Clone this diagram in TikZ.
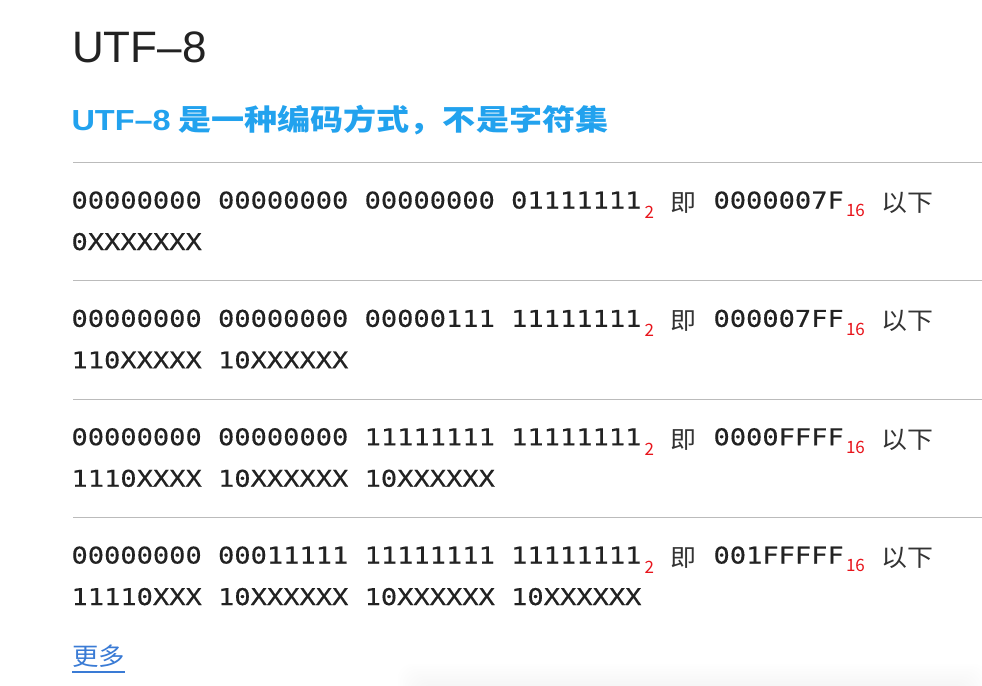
\documentclass[tikz,border=0pt]{standalone}
\usepackage{fontspec}
\setmainfont{Noto Sans CJK SC}
\newfontfamily\monof[FakeStretch=1.176,FakeBold=0.4]{DejaVu Sans Mono}
\newfontfamily\titlef{Liberation Sans}
\newfontfamily\subtlat[FakeStretch=1.12]{Liberation Sans}
\newfontfamily\subtf[FakeStretch=1.14]{Noto Sans CJK SC}
\newfontfamily\cjkf[FakeStretch=1.08]{Noto Sans CJK SC}
\newfontfamily\subf{Noto Sans CJK SC}
\definecolor{txt}{HTML}{222222}
\definecolor{cjktxt}{HTML}{333333}
\definecolor{subblue}{HTML}{22A2EE}
\definecolor{linkblue}{HTML}{3A7BD5}
\definecolor{rulecol}{HTML}{BBBBBB}
\definecolor{subred}{HTML}{E8141B}
\tikzset{
  txtnode/.style={anchor=base west, inner sep=0pt, outer sep=0pt},
  monotext/.style={txtnode, text=txt, font=\monof\fontsize{23}{23}\selectfont},
  cjktext/.style={txtnode, text=cjktxt, font=\cjkf\fontsize{24}{24}\selectfont},
  subscr/.style={txtnode, text=subred, font=\subf\fontsize{17}{17}\selectfont},
  rulestyle/.style={draw=rulecol, line width=1pt},
}
\begin{document}
\begin{tikzpicture}[x=1pt,y=-1pt]
\fill[white] (0,0) rectangle (982,685);
\useasboundingbox (0,0) rectangle (982,685);
% faint shadow of a card at the bottom
\begin{scope}
\clip (0,0) rectangle (982,685);
\foreach \i in {0,...,9}
  \fill[black,opacity=0.004,rounded corners=16] (420-\i*2.5,686-\i*2.5) rectangle (966+\i*2.5,740);
\end{scope}
% title
\node[txtnode, text=txt, font=\titlef\fontsize{44}{44}\selectfont] (title) at (72,63) {UTF–8};
% subtitle
\node[txtnode, text=subblue, font=\subtlat\bfseries\fontsize{29}{29}\selectfont] (sublat) at (71.5,130.5) {UTF–8};
\node[txtnode, text=subblue, font=\subtf\bfseries\fontsize{29}{29}\selectfont] (subcjk) at (178.5,130.5) {是一种编码方式，不是字符集};
% rules
\coordinate (r1a) at (73,162.5); \coordinate (r1b) at (982,162.5);
\coordinate (r2a) at (73,280.8); \coordinate (r2b) at (982,280.8);
\coordinate (r3a) at (73,399.2); \coordinate (r3b) at (982,399.2);
\coordinate (r4a) at (73,517.5); \coordinate (r4b) at (982,517.5);
\draw[rulestyle] (r1a) -- (r1b);
\draw[rulestyle] (r2a) -- (r2b);
\draw[rulestyle] (r3a) -- (r3b);
\draw[rulestyle] (r4a) -- (r4b);
% row 1
\node[monotext] (a1) at (71.5,208.5) {00000000 00000000 00000000 01111111};
\node[subscr] (a2) at (644.5,218.3) {2};
\node[cjktext] (a3) at (670.5,211.5) {即};
\node[monotext] (a4) at (713.5,208.5) {0000007F};
\node[subscr] (a5) at (846,216.7) {16};
\node[cjktext] (a6) at (881.5,211.5) {以下};
\node[monotext] (a7) at (71.5,250) {0XXXXXXX};
% row 2
\node[monotext] (b1) at (71.5,326.8) {00000000 00000000 00000111 11111111};
\node[subscr] (b2) at (644.5,336.6) {2};
\node[cjktext] (b3) at (670.5,329.8) {即};
\node[monotext] (b4) at (713.5,326.8) {000007FF};
\node[subscr] (b5) at (846,335.0) {16};
\node[cjktext] (b6) at (881.5,329.8) {以下};
\node[monotext] (b7) at (71.5,368.3) {110XXXXX 10XXXXXX};
% row 3
\node[monotext] (c1) at (71.5,445.2) {00000000 00000000 11111111 11111111};
\node[subscr] (c2) at (644.5,455.0) {2};
\node[cjktext] (c3) at (670.5,448.2) {即};
\node[monotext] (c4) at (713.5,445.2) {0000FFFF};
\node[subscr] (c5) at (846,453.4) {16};
\node[cjktext] (c6) at (881.5,448.2) {以下};
\node[monotext] (c7) at (71.5,486.7) {1110XXXX 10XXXXXX 10XXXXXX};
% row 4
\node[monotext] (d1) at (71.5,563.5) {00000000 00011111 11111111 11111111};
\node[subscr] (d2) at (644.5,573.3) {2};
\node[cjktext] (d3) at (670.5,566.5) {即};
\node[monotext] (d4) at (713.5,563.5) {001FFFFF};
\node[subscr] (d5) at (846,571.7) {16};
\node[cjktext] (d6) at (881.5,566.5) {以下};
\node[monotext] (d7) at (71.5,605) {11110XXX 10XXXXXX 10XXXXXX 10XXXXXX};
% more link
\node[txtnode, text=linkblue, font=\cjkf\fontsize{24.5}{24.5}\selectfont] (more) at (72,665) {更多};
\draw[linkblue, line width=1.8pt] ([yshift=-6.7pt]more.base west) -- ([yshift=-6.7pt]more.base east);
\end{tikzpicture}
\end{document}
